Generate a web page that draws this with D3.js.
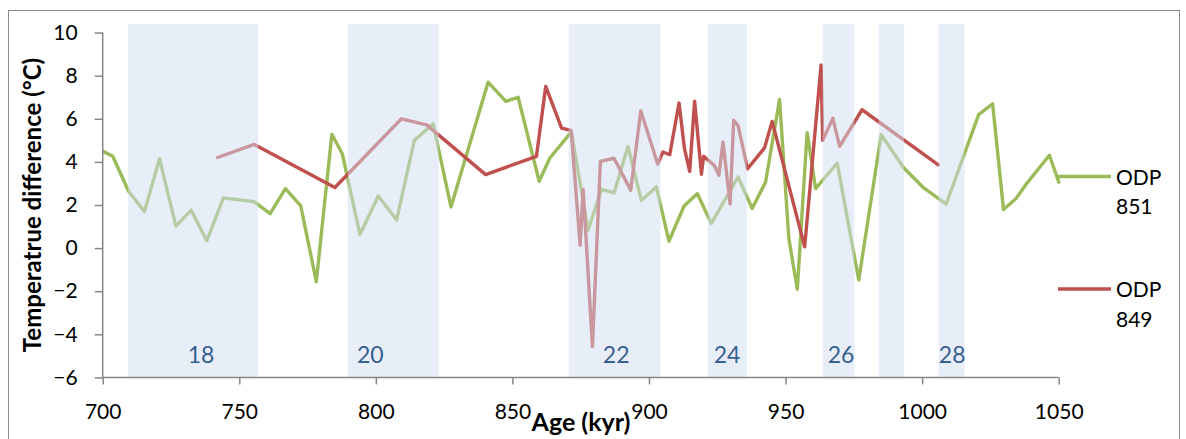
<!DOCTYPE html>
<html>
<head>
<meta charset="utf-8">
<script src="https://cdn.jsdelivr.net/npm/d3@7"></script>
<style>
  html, body { margin: 0; padding: 0; background: #fff; }
  svg { display: block; }
  text { font-family: Lato, "Open Sans", sans-serif; }
</style>
</head>
<body>
<svg id="chart" width="1186" height="439"></svg>
<script>
// ---- Data ----
const odp851Age  = [700, 703.7, 709.4, 715.3, 720.8, 726.8, 732.4, 738.1, 744.2, 755.5, 761.3, 766.9, 772.5, 778.2, 783.9, 787.7, 794.2, 800.9, 807.6, 814.1, 821, 827.5, 841.1, 847.6, 852.1, 859.8, 863.7, 871.6, 877.7, 882.6, 887.2, 892.3, 897.2, 902.7, 907.3, 912.8, 917.7, 922.8, 932.6, 937.8, 942.7, 947.8, 951.2, 954.3, 957.9, 961, 968.9, 976.8, 985, 993.3, 1000.6, 1008.8, 1020.7, 1025.8, 1029.8, 1034.4, 1037.8, 1046.6, 1050.2];
const odp851Temp = [4.5, 4.26, 2.65, 1.70, 4.15, 1.02, 1.76, 0.34, 2.33, 2.15, 1.6, 2.76, 1.96, -1.56, 5.28, 4.38, 0.63, 2.42, 1.30, 5.0, 5.77, 1.91, 7.70, 6.81, 7.0, 3.10, 4.18, 5.39, 0.83, 2.72, 2.56, 4.72, 2.22, 2.84, 0.32, 1.94, 2.53, 1.14, 3.3, 1.84, 3.07, 6.90, 0.45, -1.91, 5.36, 2.76, 3.95, -1.48, 5.26, 3.72, 2.79, 2.04, 6.19, 6.70, 1.79, 2.30, 2.92, 4.31, 3.0];

const odp849Age  = [741.5, 755.5, 785, 809.4, 818.6, 840.2, 858.8, 862.2, 868, 871.5, 874.8, 875.9, 879.3, 882.2, 887.2, 893.3, 897, 903.2, 905.1, 907.6, 911, 913, 914.9, 916.7, 919.2, 920, 923.9, 925.6, 927.1, 929.7, 931, 932.6, 936.1, 942.3, 945.1, 957, 963, 963.6, 967.3, 969.8, 978, 1006.3];
const odp849Temp = [4.18, 4.81, 2.81, 6.0, 5.72, 3.41, 4.26, 7.5, 5.57, 5.46, 0.14, 2.72, -4.57, 4.02, 4.17, 2.69, 6.36, 3.9, 4.46, 4.33, 6.73, 4.61, 3.56, 6.82, 3.43, 4.26, 3.84, 3.38, 4.92, 2.05, 5.93, 5.69, 3.68, 4.65, 5.88, 0.06, 8.5, 5.0, 6.02, 4.72, 6.42, 3.83];

// Glacial stage bands (kyr)
const bandStart    = [709.3, 789.7, 870.6, 921.5, 963.6, 984.1, 1006];
const bandEnd      = [756.9, 823, 904.2, 935.8, 975.2, 993.4, 1015.5];
const bandLabel    = ["18", "20", "22", "24", "26", "", "28"];
const bandLabelAge = [736, 798, 888, 928.6, 970.3, 989, 1011];

const xTickValues = [700, 750, 800, 850, 900, 950, 1000, 1050];
const yTickValues = [-6, -4, -2, 0, 2, 4, 6, 8, 10];

const seriesNames  = ["ODP 851", "ODP 849"];
const seriesColors = ["#9BBB59", "#C0504D"];

// ---- Chart ----
const svg = d3.select("#chart");
const x = d3.scaleLinear().domain([700, 1050]).range([102.7, 1058.7]);
const y = d3.scaleLinear().domain([-6, 10]).range([377.4, 32.6]);

// outer frame
svg.append("rect")
  .attr("x", 8.5).attr("y", 10.5).attr("width", 1171).attr("height", 440)
  .attr("fill", "none").attr("stroke", "#8c8c8c").attr("stroke-width", 1);

// lines
const series = [
  { age: odp851Age, temp: odp851Temp, color: seriesColors[0] },
  { age: odp849Age, temp: odp849Temp, color: seriesColors[1] }
];
const line = d3.line().x(d => x(d[0])).y(d => y(d[1]));
series.forEach(s => {
  svg.append("path")
    .datum(s.age.map((a, i) => [a, s.temp[i]]))
    .attr("d", line)
    .attr("fill", "none")
    .attr("stroke", s.color)
    .attr("stroke-width", 3.4)
    .attr("stroke-linejoin", "round")
    .attr("stroke-linecap", "butt");
});

// translucent bands on top of the lines
svg.append("g").selectAll("rect")
  .data(bandStart.map((s, i) => ({ s, e: bandEnd[i] })))
  .join("rect")
  .attr("x", d => x(d.s)).attr("width", d => x(d.e) - x(d.s))
  .attr("y", 24).attr("height", 378 - 24)
  .attr("fill", "rgb(210,222,240)").attr("fill-opacity", 0.5);

// band labels
svg.append("g").selectAll("text")
  .data(bandLabel.map((l, i) => ({ l, a: bandLabelAge[i] })).filter(d => d.l))
  .join("text")
  .attr("x", d => x(d.a)).attr("y", 363)
  .attr("text-anchor", "middle")
  .attr("font-size", 23).attr("fill", "#376092")
  .text(d => d.l);

// axes
const axisColor = "#868686";
const yAxis = svg.append("g").attr("transform", "translate(102.7,0)")
  .call(d3.axisLeft(y).tickValues(yTickValues).tickSize(8).tickPadding(8).tickFormat(d3.format("d")));
const xAxis = svg.append("g").attr("transform", "translate(0,377.4)")
  .call(d3.axisBottom(x).tickValues(xTickValues).tickSize(7).tickPadding(20).tickFormat(d3.format("d")));
[yAxis, xAxis].forEach(g => {
  g.select(".domain").attr("stroke", axisColor).attr("stroke-width", 1.5);
  g.selectAll(".tick line").attr("stroke", axisColor).attr("stroke-width", 1.5);
  g.selectAll(".tick text").attr("font-family", "Lato, 'Open Sans', sans-serif")
    .attr("font-size", 21).attr("fill", "#000");
});
yAxis.select(".domain").attr("d", "M-0,377.4V32.6");
xAxis.select(".domain").attr("d", "M102.7,0H1058.7");
yAxis.selectAll(".tick text").attr("x", -25);

// axis titles
svg.append("text")
  .attr("transform", "translate(41,205) rotate(-90)")
  .attr("text-anchor", "middle")
  .attr("font-size", 24).attr("font-weight", "bold").attr("fill", "#000")
  .text("Temperatrue difference (°C)");
svg.append("text")
  .attr("x", 581).attr("y", 431)
  .attr("text-anchor", "middle")
  .attr("font-size", 25).attr("font-weight", "bold").attr("fill", "#000")
  .text("Age (kyr)");

// legend
const legendY = [176.5, 289];
seriesNames.forEach((name, i) => {
  const g = svg.append("g");
  g.append("line")
    .attr("x1", 1058).attr("x2", 1111).attr("y1", legendY[i]).attr("y2", legendY[i])
    .attr("stroke", seriesColors[i]).attr("stroke-width", 3.4);
  const parts = name.split(" ");
  parts.forEach((p, j) => {
    g.append("text")
      .attr("x", 1116).attr("y", legendY[i] + 8 + j * 29.5)
      .attr("font-size", 21).attr("fill", "#000")
      .text(p);
  });
});
</script>
</body>
</html>
